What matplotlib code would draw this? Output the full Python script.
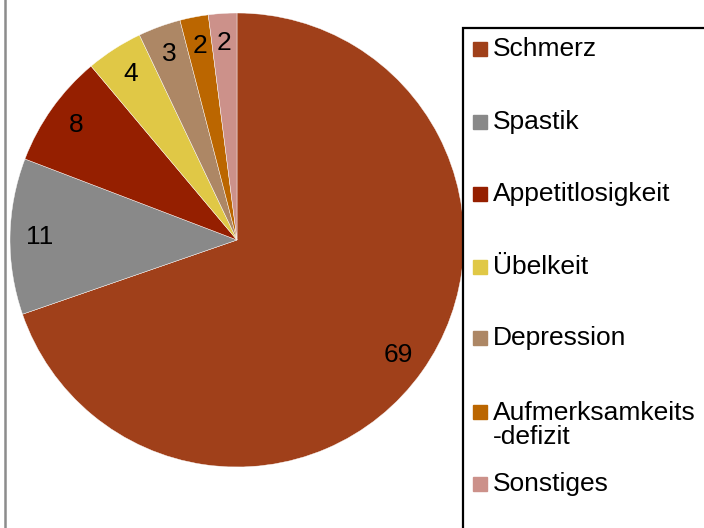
import matplotlib
matplotlib.use('Agg')
import matplotlib.pyplot as plt
from matplotlib.patches import Rectangle
from matplotlib.lines import Line2D

plt.rcParams['font.family'] = ['Liberation Sans', 'DejaVu Sans']

# Data
categories = ['Schmerz', 'Spastik', 'Appetitlosigkeit', 'Übelkeit',
              'Depression', 'Aufmerksamkeits\n-defizit', 'Sonstiges']
values = [69, 11, 8, 4, 3, 2, 2]
colors = ['#A0401A', '#898989', '#951F00', '#E0C846',
          '#AD8765', '#BB6600', '#CC918A']

W, H = 704, 528
fig = plt.figure(figsize=(W / 100, H / 100), dpi=100)

# pie axes: centre (237, 240) px, radius 227 px
cx, cy, r = 237, 240, 227
ax = fig.add_axes([(cx - r) / W, (H - cy - r) / H, 2 * r / W, 2 * r / H])
wedges, texts = ax.pie(values, colors=colors, startangle=90, counterclock=False,
                       labels=[str(v) for v in values], labeldistance=0.87,
                       wedgeprops=dict(linewidth=0.3, edgecolor='white'))
for t in texts:
    t.set_ha('center')
    t.set_va('center')
    t.set_fontsize(19)
ax.set_xlim(-1, 1)
ax.set_ylim(-1, 1)
ax.set_aspect('equal')

# left border line
fig.add_artist(Line2D([4.5 / W, 4.5 / W], [0, 1], color='#8c8c8c', linewidth=1.8))

# legend box (extends past right and bottom edges)
fig.add_artist(Rectangle((463 / W, -0.05), 0.5, 1 - 28 / H + 0.05,
                         transform=fig.transFigure, fill=False,
                         edgecolor='black', linewidth=1.6))
legend_y = [49, 122, 194, 267, 338, 425, 484]
for cat, col, y in zip(categories, colors, legend_y):
    sy = 412 if '\n' in cat else y
    fig.add_artist(Rectangle((473 / W, (H - sy - 7) / H), 14 / W, 14 / H,
                             transform=fig.transFigure, color=col))
    fig.text(493 / W, (H - y) / H, cat, fontsize=19, va='center', ha='left',
             linespacing=1.0)

fig.savefig('out.png', dpi=100)
